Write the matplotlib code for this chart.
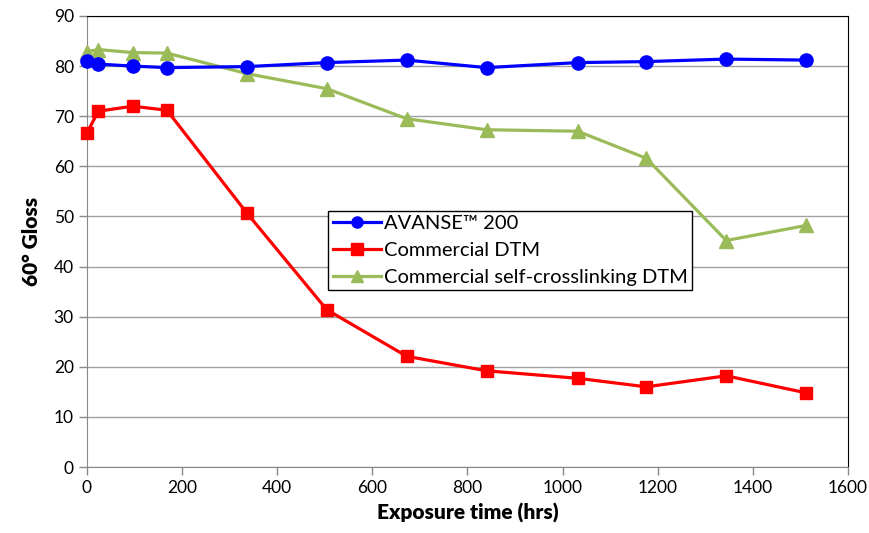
import matplotlib
matplotlib.use("Agg")
import matplotlib.pyplot as plt

hours = [0, 24, 96, 168, 336, 504, 672, 840, 1032, 1176, 1344, 1512]
avanse = [81.0, 80.4, 80.0, 79.7, 79.9, 80.7, 81.2, 79.7, 80.7, 80.9, 81.4, 81.2]
commercial = [66.7, 71.0, 72.0, 71.2, 50.7, 31.4, 22.1, 19.2, 17.7, 16.0, 18.2, 14.8]
selfx = [82.9, 83.3, 82.7, 82.6, 78.5, 75.5, 69.5, 67.3, 67.0, 61.6, 45.2, 48.2]
labels = ["AVANSE\u2122 200", "Commercial DTM", "Commercial self-crosslinking DTM"]
xticks = [0, 200, 400, 600, 800, 1000, 1200, 1400, 1600]
yticks = [0, 10, 20, 30, 40, 50, 60, 70, 80, 90]

plt.rcParams['font.family'] = ['Lato', 'DejaVu Sans']

fig = plt.figure(figsize=(8.69, 5.33), dpi=100)
ax = fig.add_axes([0.1001, 0.1238, 0.8757, 0.8462])

ax.plot(hours, avanse, color='#0000FF', lw=2.3, marker='o', ms=9.5, label=labels[0], zorder=4, clip_on=False)
ax.plot(hours, commercial, color='#FF0000', lw=2.3, marker='s', ms=8.5, label=labels[1], zorder=3, clip_on=False)
ax.plot(hours, selfx, color='#9BBB59', lw=2.3, marker='^', ms=9.5, label=labels[2], zorder=3, clip_on=False)

ax.set_xlim(0, 1600)
ax.set_ylim(0, 90)
ax.set_xticks(xticks)
ax.set_yticks(yticks)
ax.yaxis.grid(True, color='#a0a0a0', lw=1)
ax.set_axisbelow(True)
for s in ['left', 'bottom']:
    ax.spines[s].set_color('#888888')
for s in ['top', 'right']:
    ax.spines[s].set_color('black')
ax.tick_params(axis='both', direction='out', length=6, color='#888888', width=1,
               labelsize=12.5)

ax.set_xlabel("Exposure time (hrs)", fontsize=15, fontweight='heavy', labelpad=5)
ax.set_ylabel("60\u00b0 Gloss", fontsize=15, fontweight='heavy', labelpad=9)

leg = ax.legend(loc='upper left', bbox_to_anchor=(0.317, 0.568), fontsize=14.5,
                frameon=True, fancybox=False, edgecolor='black', framealpha=1,
                borderpad=0.22, labelspacing=0.48, handlelength=2.4, handletextpad=0.15,
                borderaxespad=0)
leg.get_frame().set_linewidth(1)
for h in leg.legend_handles:
    h.set_markersize(8)

fig.savefig("out.png", dpi=100)
